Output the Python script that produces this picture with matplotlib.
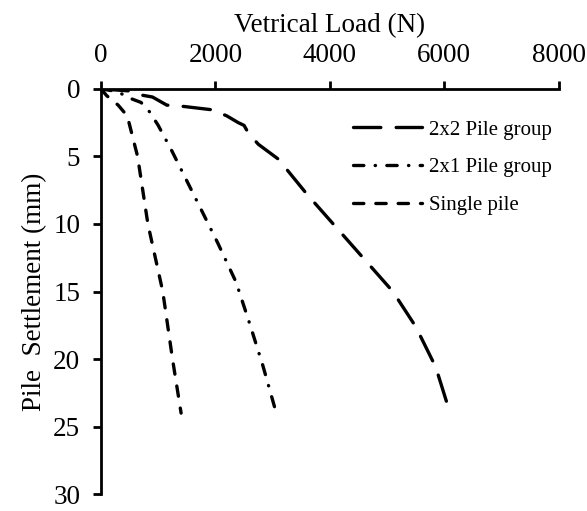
import matplotlib.pyplot as plt

plt.rcParams['font.family'] = ['Liberation Serif', 'DejaVu Serif']

# load (N) vs settlement (mm) for each configuration
load_2x2 = [0, 500, 700, 900, 1150, 1450, 1950, 2200, 2400, 2500, 2580, 2750,
            3100, 3600, 4100, 4600, 5100, 5500, 5850, 6100]
settle_2x2 = [0, 0.15, 0.45, 0.6, 1.2, 1.3, 1.55, 2.0, 2.5, 2.7, 3.3, 4.1,
              5.2, 7.8, 10.2, 12.6, 15.0, 17.6, 20.6, 24.0]

load_2x1 = [0, 300, 450, 700, 850, 1000, 1240, 1700, 2040, 2360, 2600, 2830, 3050]
settle_2x1 = [0, 0.2, 0.6, 1.0, 1.7, 2.7, 4.6, 8.5, 11.4, 14.3, 17.4, 20.5, 23.8]

load_single = [0, 100, 300, 460, 520, 640, 820, 1080, 1250, 1400]
settle_single = [0, 0.5, 1.2, 2.0, 3.0, 5.0, 10.0, 15.0, 20.0, 24.0]

fig = plt.figure(figsize=(5.87, 5.11), dpi=100)
ax = fig.add_axes([0.172, 0.033, 0.78, 0.793])

lw = 2.4
l1, = ax.plot(load_2x2, settle_2x2, color='black', lw=lw, label='2x2 Pile group')
l1.set_dashes([8.2, 4.6])
l2, = ax.plot(load_2x1, settle_2x1, color='black', lw=lw, label='2x1 Pile group')
l2.set_dashes([3.1, 3.4, 0.1, 3.4])
l3, = ax.plot(load_single, settle_single, color='black', lw=lw, label='Single pile')
l3.set_dashes([3.1, 3.6])
for ln in (l1, l2, l3):
    ln.set_dash_capstyle('round')

ax.set_xlim(0, 8000)
ax.set_ylim(30, 0)
ax.set_xticks([0, 2000, 4000, 6000, 8000])
ax.set_yticks([0, 5, 10, 15, 20, 25, 30])

ax.xaxis.tick_top()
ax.xaxis.set_label_position('top')
ax.spines['bottom'].set_visible(False)
ax.spines['right'].set_visible(False)
for s in ('top', 'left'):
    ax.spines[s].set_linewidth(2)
ax.tick_params(axis='both', direction='out', length=6, width=2, pad=9, labelsize=19.5)

ax.set_xlabel('Vetrical Load (N)', fontsize=19.5, labelpad=8)
ax.set_ylabel('Pile  Settlement (mm)', fontsize=19.5, labelpad=4)

ax.legend(loc='upper left', bbox_to_anchor=(0.601, 0.765),
          bbox_transform=fig.transFigure, frameon=False, borderpad=0,
          borderaxespad=0, fontsize=15, handlelength=3.3, handletextpad=0.35,
          labelspacing=0.87)

fig.savefig('out.png', dpi=100)
